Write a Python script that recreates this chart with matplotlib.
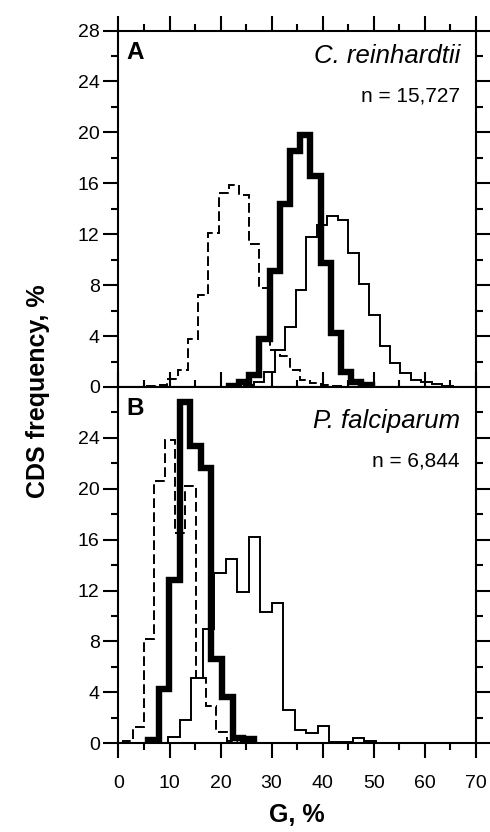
import numpy as np
import matplotlib.pyplot as plt
from matplotlib.ticker import MultipleLocator

plt.rcParams['font.family'] = ['Liberation Sans', 'DejaVu Sans']

# G, % bins: first left edge and bin width for each histogram, then CDS frequency, %
# panel A: C. reinhardtii
cr_dash_start, cr_dash_width = 5.6, 2.0
cr_dash = [0.1, 0.15, 0.63, 1.34, 3.77, 7.2, 12.1, 15.2, 15.9, 15.1, 11.2, 7.75,
           2.9, 2.4, 1.3, 0.55, 0.3, 0.15, 0.05]
cr_thick_start, cr_thick_width = 21.6, 2.0
cr_thick = [0.1, 0.4, 0.95, 3.8, 9.1, 14.4, 18.5, 19.8, 16.6, 9.7, 4.2, 1.2, 0.4, 0.15]
cr_thin_start, cr_thin_width = 24.5, 2.05
cr_thin = [0.15, 0.4, 1.2, 2.9, 4.7, 7.6, 11.8, 12.7, 13.4, 13.1, 10.5, 8.1, 5.65,
           3.2, 1.9, 1.07, 0.55, 0.4, 0.2, 0.08]

# panel B: P. falciparum
pf_dash_start, pf_dash_width = 0.9, 2.03
pf_dash = [0.2, 1.3, 8.2, 20.6, 23.8, 16.5, 20.2, 5.1, 2.9, 0.9, 0.15]
pf_thick_start, pf_thick_width = 5.8, 2.07
pf_thick = [0.26, 4.3, 12.8, 26.8, 23.4, 21.6, 6.6, 3.6, 0.4, 0.3]
pf_thin_start, pf_thin_width = 9.7, 2.26
pf_thin = [0.5, 1.8, 5.1, 9.0, 13.4, 14.5, 11.9, 16.2, 10.3, 11.0, 2.6, 1.05, 0.8,
           1.37, 0.13, 0.13, 0.4, 0.18]

panels = [
    ("A", "C. reinhardtii", "n = 15,727", 0.910, 0.801,
     [(cr_dash, cr_dash_start, cr_dash_width), (cr_thin, cr_thin_start, cr_thin_width),
      (cr_thick, cr_thick_start, cr_thick_width)]),
    ("B", "P. falciparum", "n = 6,844", 0.884, 0.778,
     [(pf_dash, pf_dash_start, pf_dash_width), (pf_thin, pf_thin_start, pf_thin_width),
      (pf_thick, pf_thick_start, pf_thick_width)]),
]

styles = [
    dict(color="black", linewidth=1.4, linestyle=(0, (5, 2.2))),
    dict(color="black", linewidth=1.4),
    dict(color="black", linewidth=4.6),
]

fig = plt.figure(figsize=(4.9, 8.32), dpi=100)
left, right = 0.2418, 0.9708
ax_top = fig.add_axes([left, 0.5349, right - left, 0.9633 - 0.5349])
ax_bot = fig.add_axes([left, 0.1066, right - left, 0.5349 - 0.1066])

for ax, (letter, species, ntext, sp_y, n_y, hists) in zip([ax_top, ax_bot], panels):
    for (vals, start, width), st in zip(hists, styles):
        edges = start + width * np.arange(len(vals) + 1)
        ax.stairs(vals, edges, baseline=0, **st)

    ax.set_xlim(0, 70)
    ax.set_ylim(0, 28)
    ax.xaxis.set_major_locator(MultipleLocator(10))
    ax.xaxis.set_minor_locator(MultipleLocator(5))
    ax.yaxis.set_minor_locator(MultipleLocator(2))
    for s in ax.spines.values():
        s.set_linewidth(1.5)
    ax.tick_params(which="both", direction="out", top=True, right=True, width=1.5,
                   labelsize=14)
    ax.tick_params(which="major", length=10.5)
    ax.tick_params(which="minor", length=5)
    ax.tick_params(axis="y", pad=3)
    ax.tick_params(axis="x", pad=12.5)

    ax.text(0.022, 0.92, letter, transform=ax.transAxes, fontsize=17.5,
            fontweight="bold", ha="left", va="baseline")
    ax.text(0.956, sp_y, species, transform=ax.transAxes, fontsize=18.5,
            style="italic", ha="right", va="baseline")
    ax.text(0.956, n_y, ntext, transform=ax.transAxes, fontsize=15,
            ha="right", va="baseline")

ax_top.set_yticks(np.arange(0, 29, 4))
ax_top.tick_params(labelbottom=False)
ax_bot.set_yticks(np.arange(0, 25, 4))
ax_bot.set_yticks(np.arange(2, 27, 4), minor=True)

fig.text(0.078, 0.530, "CDS frequency, %", rotation=90, ha="center", va="center",
         fontsize=18, fontweight="bold")
fig.text(0.606, 0.012, "G, %", ha="center", va="baseline", fontsize=18,
         fontweight="bold")

fig.savefig("out.png", dpi=100)
